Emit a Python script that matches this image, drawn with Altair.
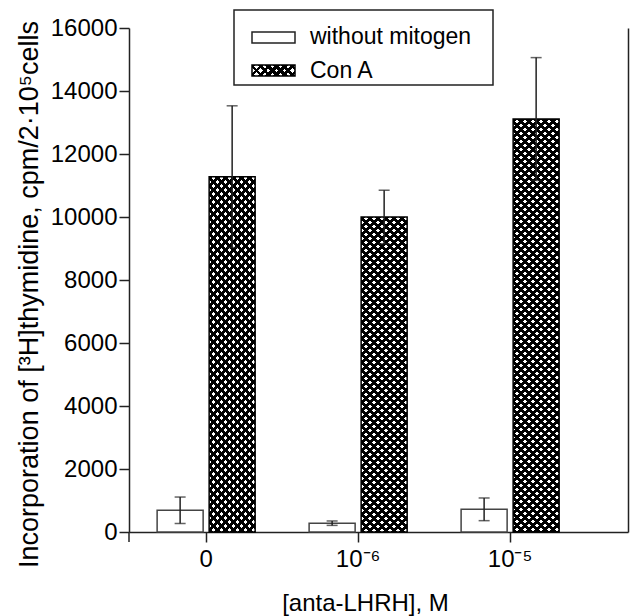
import altair as alt
import pandas as pd

# ---------------- data ----------------
doses = ["0", "10⁻⁶", "10⁻⁵"]
series = ["without mitogen", "Con A"]
without_vals = [690, 280, 720]
without_err = [420, 70, 360]
cona_vals = [11280, 10000, 13110]
cona_err = [2250, 850, 1950]
y_ticks = [0, 2000, 4000, 6000, 8000, 10000, 12000, 14000, 16000]

# ---------------- layout / style ----------------
W, H = 499, 504
YMAX = 16000
FONT = "Liberation Sans"
INK = "#222222"
PI, PO, AL = 0.355, 0.319, 0.29
PI2 = 0.1154

step = W / (len(doses) - PI + 2 * PO)
band = step * (1 - PI)
sub_step = band / (len(series) - PI2)
BAR_W = sub_step * (1 - PI2)

rows = []
for i, d in enumerate(doses):
    rows.append(dict(dose=d, series=series[0], value=without_vals[i], err=without_err[i]))
    rows.append(dict(dose=d, series=series[1], value=cona_vals[i], err=cona_err[i]))
df = pd.DataFrame(rows)
df["lo"] = df["value"] - df["err"]
df["hi"] = df["value"] + df["err"]


def hatch(w, h, direction, bg, period=8.0, ink=0.5):
    """Linear gradient producing diagonal stripes on a w x h pixel box."""
    L = w + h
    k = L / (w * w + h * h)
    if direction == 1:
        x1, y1, x2, y2 = 0, 0, w * k, h * k
    else:
        x1, y1, x2, y2 = 0, 1, w * k, 1 - h * k
    s = period / L
    stops = []
    j = 0
    while j * s < 1:
        a = j * s
        b = min(1.0, a + ink * s)
        c = min(1.0, (j + 1) * s)
        stops += [(a, "black"), (b, "black"), (b, bg), (c, bg)]
        j += 1
    return alt.LinearGradient(
        gradient="linear",
        x1=round(x1, 5), y1=round(y1, 5), x2=round(x2, 5), y2=round(y2, 5),
        stops=[alt.GradientStop(offset=round(o, 5), color=col) for o, col in stops],
    )


x_scale = alt.Scale(domain=doses, paddingInner=PI, paddingOuter=PO, align=AL)
xo_scale = alt.Scale(domain=series, paddingInner=PI2, paddingOuter=0)
y_scale = alt.Scale(domain=[0, YMAX], nice=False, zero=True)

x_axis = alt.Axis(
    title="[anta-LHRH], M", labelAngle=0, ticks=True, tickSize=10, tickWidth=1.5,
    tickColor=INK, domainColor=INK, domainWidth=1.5, labelFont=FONT, labelFontSize=24,
    labelColor="black", labelPadding=5, titleFont=FONT, titleFontSize=24,
    titleFontWeight="normal", titleColor="black", titleX=236, titleY=71,
    titleBaseline="middle", grid=False,
)
y_axis_left = alt.Axis(
    title="Incorporation of [³H]thymidine, cpm/2·10⁵cells", values=y_ticks,
    format="d", tickSize=10, tickWidth=1.5, tickColor=INK, domainColor=INK,
    domainWidth=1.5, labelFont=FONT, labelFontSize=24, labelColor="black",
    labelPadding=2, titleFont=FONT, titleFontSize=27, titleFontWeight="normal",
    titleColor="black", titleX=-100, titleY=266, titleBaseline="middle",
    titleAngle=-90, grid=False,
)
y_axis_right = alt.Axis(
    orient="right", title=None, labels=False, ticks=False, grid=False,
    domainColor=INK, domainWidth=1.5,
)


def X():
    return alt.X("dose:N", scale=x_scale, sort=doses, axis=x_axis)


XO = alt.XOffset("series:N", scale=xo_scale, sort=series)

base = alt.Chart(df)

white_bars = base.transform_filter(alt.datum.series == series[0]).mark_bar(
    fill="white", stroke="#444444", strokeWidth=1.5
).encode(x=X(), xOffset=XO, y=alt.Y("value:Q", scale=y_scale, axis=y_axis_left))

layers = [white_bars]

for i, d in enumerate(doses):
    h = cona_vals[i] / YMAX * H
    sel = base.transform_filter((alt.datum.series == series[1]) & (alt.datum.dose == d))
    enc = dict(x=X(), xOffset=XO, y=alt.Y("value:Q", scale=y_scale, axis=None))
    layers.append(sel.mark_bar(fill=hatch(BAR_W, h, 1, "white"), strokeWidth=0).encode(**enc))
    layers.append(sel.mark_bar(fill=hatch(BAR_W, h, -1, "rgba(255,255,255,0)"),
                               stroke="black", strokeWidth=1.5).encode(**enc))

err_rule = base.mark_rule(color=INK, strokeWidth=1.5).encode(
    x=X(), xOffset=XO,
    y=alt.Y("lo:Q", scale=y_scale, axis=y_axis_right),
    y2="hi:Q",
)
cap_hi = base.mark_tick(color=INK, size=11, thickness=1.5).encode(
    x=X(), xOffset=XO, y=alt.Y("hi:Q", scale=y_scale, axis=None))
cap_lo = base.mark_tick(color=INK, size=11, thickness=1.5).encode(
    x=X(), xOffset=XO, y=alt.Y("lo:Q", scale=y_scale, axis=None))
layers += [err_rule, cap_hi, cap_lo]

# small downward extension of the left axis line below the baseline
axis_ext = alt.Chart(pd.DataFrame({"series": series[:1]})).mark_rule(
    color=INK, strokeWidth=1.5
).encode(x=alt.value(0), y=alt.value(H), y2=alt.value(H + 10))
layers.append(axis_ext)

# ---------------- legend ----------------
leg = alt.Chart(pd.DataFrame({"series": series}))
leg_box = leg.transform_filter(alt.datum.series == series[0]).mark_rect(
    fill="white", stroke=INK, strokeWidth=1.5
).encode(x=alt.value(105), x2=alt.value(364), y=alt.value(-18), y2=alt.value(57))
sym_w, sym_h = 43, 11
leg_sym1 = leg.transform_filter(alt.datum.series == series[0]).mark_rect(
    fill="white", stroke=INK, strokeWidth=1.5
).encode(x=alt.value(123), x2=alt.value(123 + sym_w), y=alt.value(4), y2=alt.value(4 + sym_h))
leg_sym2a = leg.transform_filter(alt.datum.series == series[1]).mark_rect(
    fill=hatch(sym_w, sym_h, 1, "white"), strokeWidth=0
).encode(x=alt.value(123), x2=alt.value(123 + sym_w), y=alt.value(37), y2=alt.value(37 + sym_h))
leg_sym2b = leg.transform_filter(alt.datum.series == series[1]).mark_rect(
    fill=hatch(sym_w, sym_h, -1, "rgba(255,255,255,0)"), stroke="black", strokeWidth=1.5
).encode(x=alt.value(123), x2=alt.value(123 + sym_w), y=alt.value(37), y2=alt.value(37 + sym_h))
leg_txt1 = leg.transform_filter(alt.datum.series == series[0]).mark_text(
    align="left", baseline="middle", font=FONT, fontSize=23, color="black"
).encode(text="series:N", x=alt.value(181), y=alt.value(9))
leg_txt2 = leg.transform_filter(alt.datum.series == series[1]).mark_text(
    align="left", baseline="middle", font=FONT, fontSize=23, color="black"
).encode(text="series:N", x=alt.value(181), y=alt.value(43))
layers += [leg_box, leg_sym1, leg_sym2a, leg_sym2b, leg_txt1, leg_txt2]

chart = alt.layer(*layers).resolve_axis(y="independent").properties(
    width=W, height=H,
    autosize=alt.AutoSizeParams(type="none"),
    padding={"left": 129, "top": 28, "right": 637 - 129 - W, "bottom": 616 - 28 - H},
    background="white",
).configure_view(stroke=None)

chart.save("out.html", embed_options={"renderer": "svg", "actions": False})
